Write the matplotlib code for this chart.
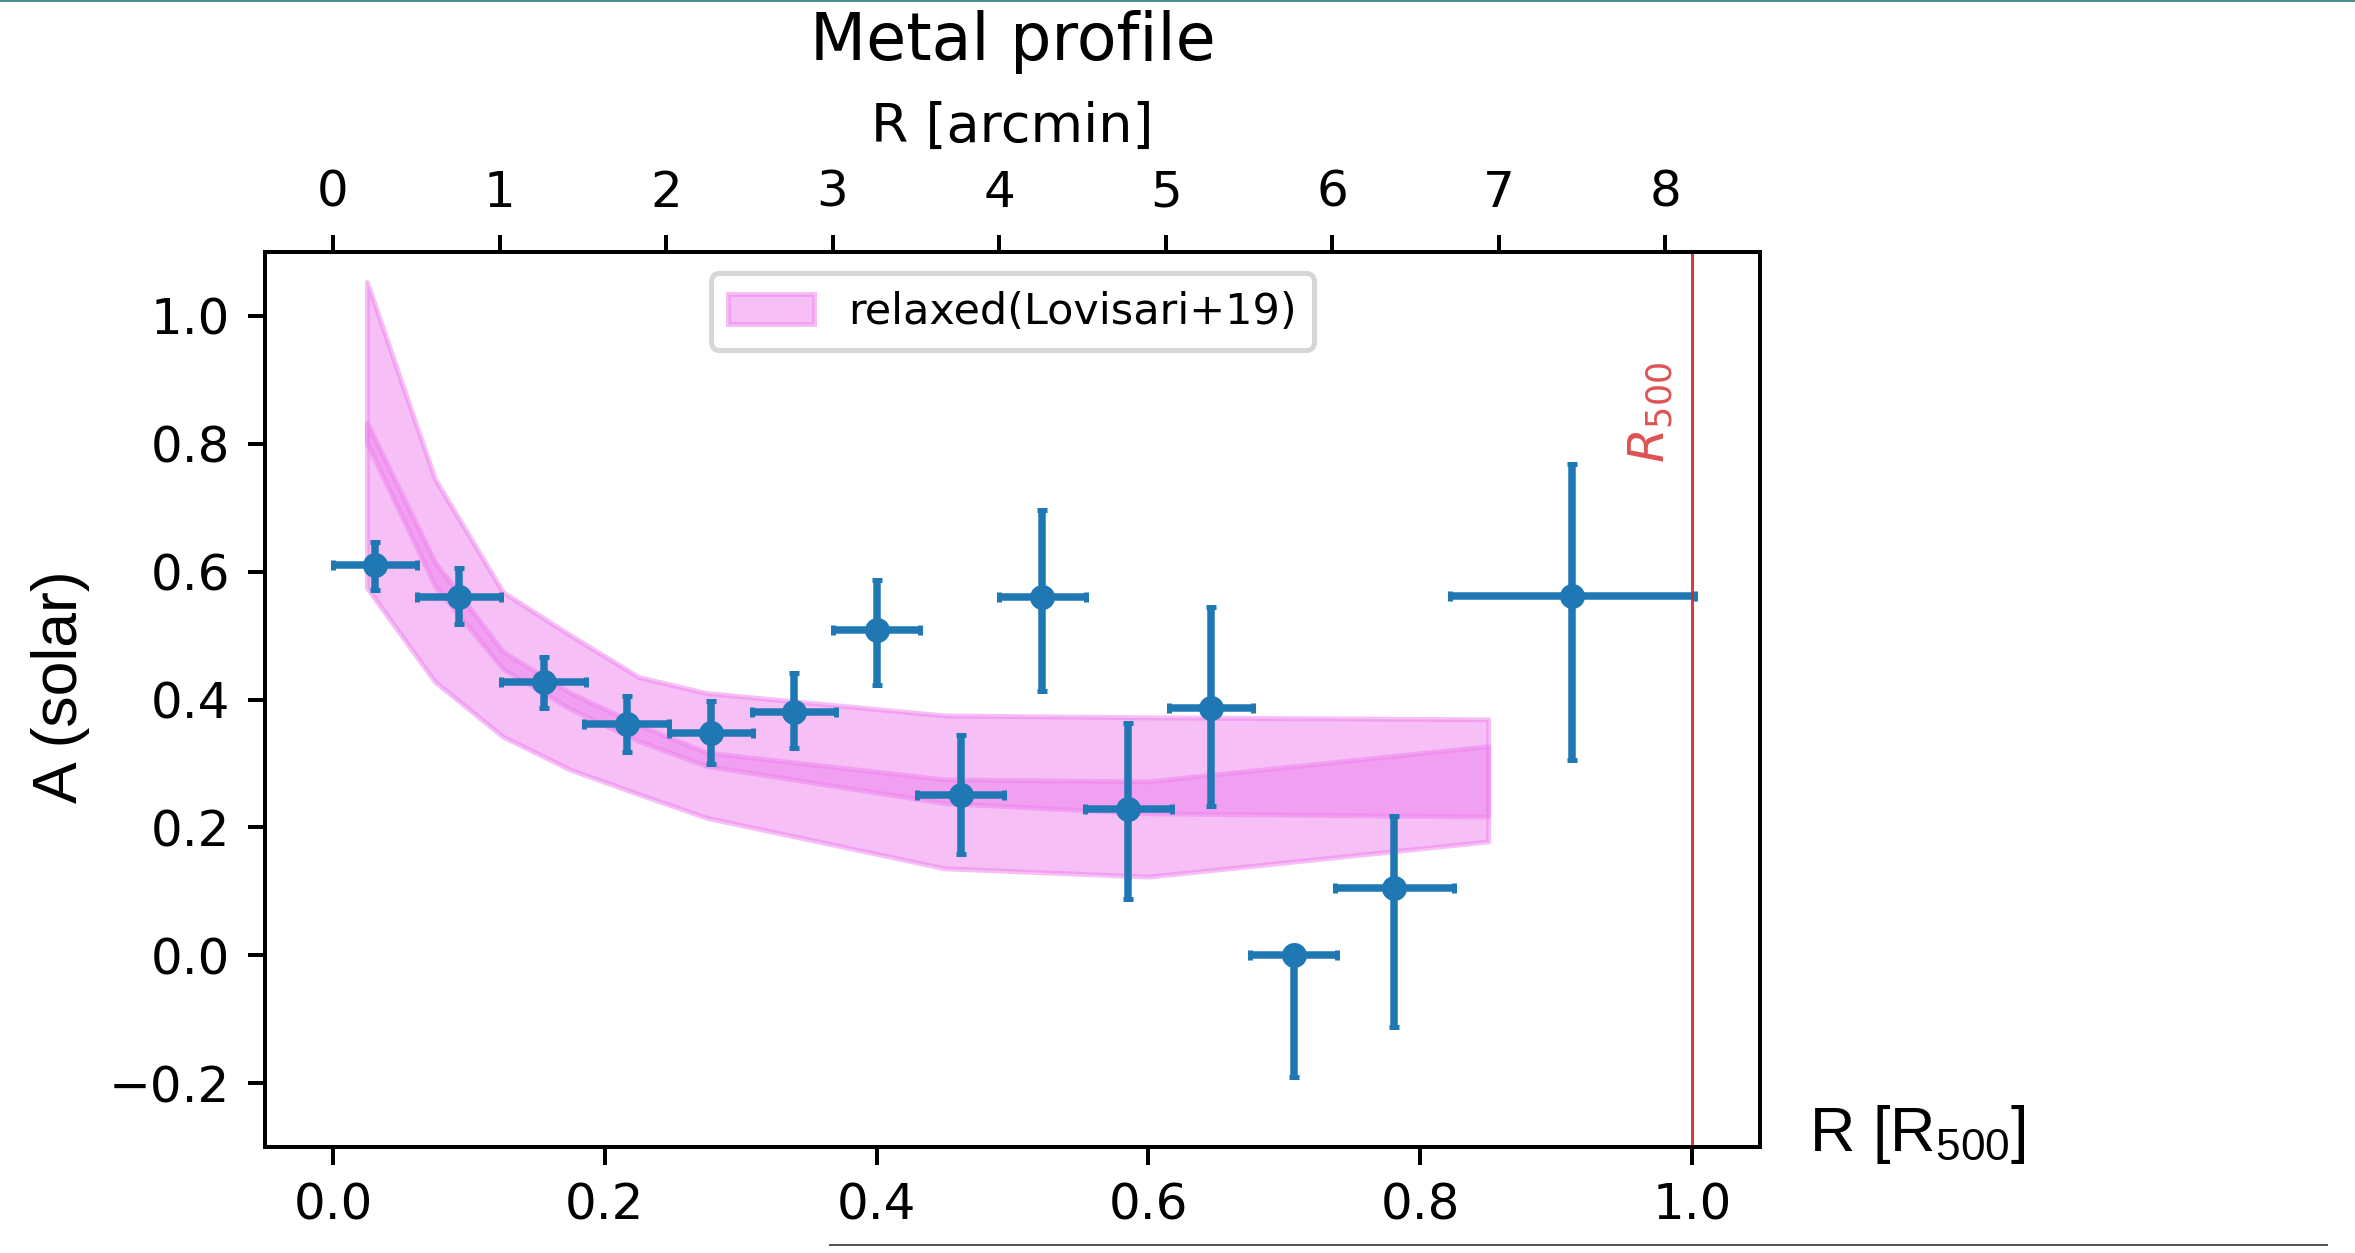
import matplotlib
matplotlib.use("Agg")
from matplotlib import pyplot as plt
from matplotlib.lines import Line2D
from matplotlib.ticker import MultipleLocator

plt.rcParams["mathtext.rm"] = "Liberation Sans"
plt.rcParams["mathtext.it"] = "Liberation Sans:italic"

# measured metallicity profile (x in R500)
r = [0.031, 0.093, 0.155, 0.216, 0.278, 0.339, 0.400, 0.462, 0.522, 0.585, 0.646, 0.707, 0.781, 0.912]
r_err = [0.031, 0.031, 0.031, 0.031, 0.031, 0.031, 0.032, 0.032, 0.032, 0.032, 0.031, 0.032, 0.044, 0.090]
abund = [0.611, 0.561, 0.428, 0.361, 0.348, 0.380, 0.508, 0.251, 0.561, 0.228, 0.386, 0.0, 0.105, 0.562]
abund_lo = [0.039, 0.043, 0.042, 0.043, 0.049, 0.056, 0.086, 0.093, 0.147, 0.140, 0.153, 0.190, 0.218, 0.256]
abund_hi = [0.036, 0.045, 0.038, 0.044, 0.050, 0.061, 0.079, 0.093, 0.135, 0.135, 0.159, 0.000, 0.113, 0.207]

# relaxed clusters, Lovisari+19
lov_r = [0.025, 0.075, 0.125, 0.175, 0.225, 0.275, 0.45, 0.6, 0.85]
lov_scatter_hi = [1.053, 0.745, 0.568, 0.500, 0.435, 0.410, 0.375, 0.372, 0.369]
lov_scatter_lo = [0.575, 0.428, 0.342, 0.290, 0.252, 0.215, 0.136, 0.123, 0.178]
lov_mean_hi = [0.833, 0.615, 0.475, 0.410, 0.360, 0.317, 0.275, 0.272, 0.327]
lov_mean_lo = [0.801, 0.578, 0.448, 0.385, 0.335, 0.296, 0.238, 0.222, 0.217]

R500_ARCMIN = 8.16

W, H, DPI = 2355, 1253, 360
fig = plt.figure(figsize=(W / DPI, H / DPI), dpi=DPI)
ax = fig.add_axes([265 / W, 1 - 1147 / H, (1760 - 265) / W, (1147 - 252) / H])

ax.fill_between(lov_r, lov_scatter_lo, lov_scatter_hi, color="violet", alpha=0.5,
                label="relaxed(Lovisari+19)")
ax.fill_between(lov_r, lov_mean_lo, lov_mean_hi, color="violet", alpha=0.5)

ax.errorbar(r, abund, xerr=r_err, yerr=[abund_lo, abund_hi], fmt="o", ms=4,
            capsize=1, color="tab:blue")

ax.axvline(1.0, color="tab:red", lw=0.6, alpha=0.9)
ax.text(0.97, 0.77, r"$R_{500}$", rotation=90, color="tab:red", alpha=0.8,
        ha="center", va="bottom", fontsize=10)

ax.set_xlim(-0.05, 1.05)
ax.set_ylim(-0.3, 1.1)
ax.xaxis.set_major_locator(MultipleLocator(0.2))
ax.yaxis.set_major_locator(MultipleLocator(0.2))
ax.legend(loc="upper center", fontsize=8.6)

top = ax.secondary_xaxis("top", functions=(lambda x: x * R500_ARCMIN,
                                           lambda x: x / R500_ARCMIN))
top.xaxis.set_major_locator(MultipleLocator(1))
top.set_xlabel("R [arcmin]", fontsize=10.8, labelpad=5.5)
ax.set_title("Metal profile", fontsize=13, pad=8)

# slide text around the plot
fig.text(61 / W, 1 - 687 / H, "A (solar)", rotation=90, family="Liberation Sans",
         fontsize=12.5, ha="center", va="center")
fig.text(1809 / W, 1 - 1151 / H, r"R [R$_{\mathregular{500}}$]",
         family="Liberation Sans", math_fontfamily="custom", fontsize=12.6,
         ha="left", va="baseline")

fig.add_artist(Line2D([0, 1], [1 - 1 / H, 1 - 1 / H], transform=fig.transFigure,
                      color="#4e8f8f", lw=0.4))
fig.add_artist(Line2D([830 / W, 2327 / W], [1 - 1245 / H, 1 - 1245 / H],
                      transform=fig.transFigure, color="#555555", lw=0.4))

fig.savefig("out.png", dpi=DPI)
